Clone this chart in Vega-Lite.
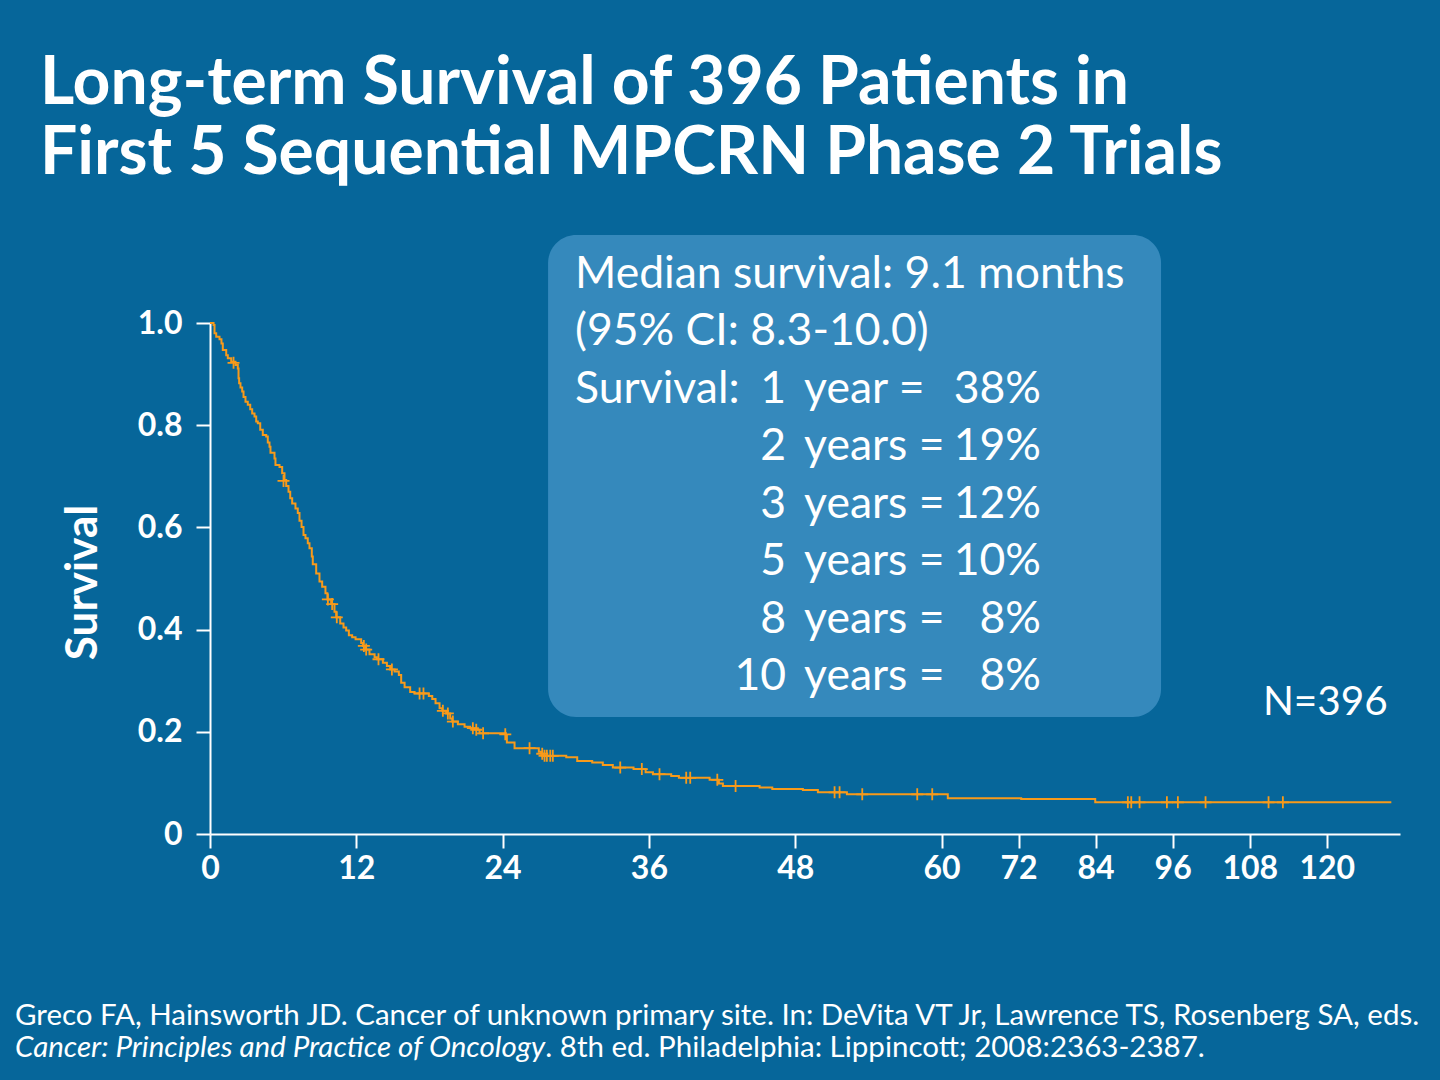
{
  "$schema": "https://vega.github.io/schema/vega-lite/v6.json",
  "width": 1190,
  "height": 511,
  "autosize": "none",
  "padding": {"left": 210, "top": 323, "right": 40, "bottom": 246},
  "background": "#06669a",
  "config": {"view": {"stroke": null}, "font": "Lato"},
  "title": {
    "text": ["Long-term Survival of 396 Patients in", "First 5 Sequential MPCRN Phase 2 Trials"],
    "anchor": "start",
    "frame": "group",
    "orient": "top",
    "font": "Lato",
    "fontSize": 66,
    "fontWeight": "bold",
    "color": "white",
    "lineHeight": 70,
    "dx": -170,
    "offset": -5,
    "baseline": "alphabetic"
  },
  "datasets": {
    "km": [
      {"month": 0, "survival": 1.0}, {"month": 0.29, "survival": 0.996}, {"month": 0.37, "survival": 0.98},
      {"month": 0.51, "survival": 0.973}, {"month": 0.78, "survival": 0.968}, {"month": 0.94, "survival": 0.96},
      {"month": 1.05, "survival": 0.947}, {"month": 1.33, "survival": 0.937}, {"month": 1.46, "survival": 0.931},
      {"month": 1.74, "survival": 0.924}, {"month": 2.09, "survival": 0.918}, {"month": 2.28, "survival": 0.911},
      {"month": 2.34, "survival": 0.892}, {"month": 2.39, "survival": 0.882}, {"month": 2.5, "survival": 0.874},
      {"month": 2.64, "survival": 0.866}, {"month": 2.75, "survival": 0.855}, {"month": 2.91, "survival": 0.846},
      {"month": 3.1, "survival": 0.84}, {"month": 3.3, "survival": 0.831}, {"month": 3.46, "survival": 0.823},
      {"month": 3.65, "survival": 0.817}, {"month": 3.79, "survival": 0.807}, {"month": 3.92, "survival": 0.804},
      {"month": 4.12, "survival": 0.791}, {"month": 4.33, "survival": 0.781}, {"month": 4.61, "survival": 0.778},
      {"month": 4.74, "survival": 0.766}, {"month": 4.88, "survival": 0.758}, {"month": 4.96, "survival": 0.746},
      {"month": 5.29, "survival": 0.735}, {"month": 5.37, "survival": 0.722}, {"month": 5.7, "survival": 0.718},
      {"month": 5.92, "survival": 0.706}, {"month": 6.11, "survival": 0.693}, {"month": 6.25, "survival": 0.681},
      {"month": 6.44, "survival": 0.67}, {"month": 6.58, "survival": 0.657}, {"month": 6.74, "survival": 0.647},
      {"month": 7.01, "survival": 0.637}, {"month": 7.2, "survival": 0.628}, {"month": 7.34, "survival": 0.613},
      {"month": 7.51, "survival": 0.601}, {"month": 7.67, "survival": 0.585}, {"month": 7.83, "survival": 0.579},
      {"month": 8.02, "survival": 0.569}, {"month": 8.16, "survival": 0.559}, {"month": 8.35, "survival": 0.543},
      {"month": 8.43, "survival": 0.528}, {"month": 8.71, "survival": 0.51}, {"month": 8.98, "survival": 0.494},
      {"month": 9.2, "survival": 0.484}, {"month": 9.47, "survival": 0.471}, {"month": 9.63, "survival": 0.459},
      {"month": 9.94, "survival": 0.45}, {"month": 10.21, "survival": 0.435}, {"month": 10.35, "survival": 0.424},
      {"month": 10.68, "survival": 0.412}, {"month": 10.95, "survival": 0.404}, {"month": 11.17, "survival": 0.398},
      {"month": 11.39, "survival": 0.389}, {"month": 11.66, "survival": 0.385}, {"month": 11.94, "survival": 0.381},
      {"month": 12.4, "survival": 0.374}, {"month": 12.54, "survival": 0.368}, {"month": 12.73, "survival": 0.361},
      {"month": 13.08, "survival": 0.352}, {"month": 13.5, "survival": 0.346}, {"month": 13.69, "survival": 0.342},
      {"month": 14.18, "survival": 0.335}, {"month": 14.51, "survival": 0.329}, {"month": 14.78, "survival": 0.322},
      {"month": 15.14, "survival": 0.318}, {"month": 15.49, "survival": 0.311}, {"month": 15.68, "survival": 0.296},
      {"month": 15.96, "survival": 0.287}, {"month": 16.42, "survival": 0.278}, {"month": 16.78, "survival": 0.275},
      {"month": 17.95, "survival": 0.27}, {"month": 18.23, "survival": 0.264}, {"month": 18.5, "survival": 0.256},
      {"month": 18.83, "survival": 0.246}, {"month": 19.05, "survival": 0.241}, {"month": 19.37, "survival": 0.236},
      {"month": 19.7, "survival": 0.226}, {"month": 19.87, "survival": 0.22}, {"month": 20.33, "survival": 0.215},
      {"month": 20.88, "survival": 0.21}, {"month": 21.34, "survival": 0.207}, {"month": 21.78, "survival": 0.204},
      {"month": 22.11, "survival": 0.197}, {"month": 24.27, "survival": 0.193}, {"month": 24.35, "survival": 0.179},
      {"month": 24.98, "survival": 0.168}, {"month": 26.97, "survival": 0.161}, {"month": 27.17, "survival": 0.157},
      {"month": 27.3, "survival": 0.153}, {"month": 29.22, "survival": 0.15}, {"month": 30.12, "survival": 0.143},
      {"month": 31.35, "survival": 0.14}, {"month": 32.22, "survival": 0.135}, {"month": 33.04, "survival": 0.13},
      {"month": 34.74, "survival": 0.127}, {"month": 35.73, "survival": 0.121}, {"month": 36.33, "survival": 0.117},
      {"month": 37.83, "survival": 0.1135}, {"month": 38.46, "survival": 0.11}, {"month": 40.98, "survival": 0.106},
      {"month": 41.74, "survival": 0.099}, {"month": 42.07, "survival": 0.094}, {"month": 45.08, "survival": 0.091},
      {"month": 46.12, "survival": 0.088}, {"month": 48.63, "survival": 0.086}, {"month": 49.86, "survival": 0.0816},
      {"month": 52.24, "survival": 0.0777}, {"month": 60.98, "survival": 0.07}, {"month": 72.41, "survival": 0.0685},
      {"month": 83.94, "survival": 0.062}, {"month": 130.05, "survival": 0.062}
    ],
    "censored": [
      {"month": 1.93, "survival": 0.922}, {"month": 6.03, "survival": 0.691}, {"month": 9.67, "survival": 0.459},
      {"month": 10.02, "survival": 0.45}, {"month": 10.4, "survival": 0.424}, {"month": 12.62, "survival": 0.368},
      {"month": 12.81, "survival": 0.361}, {"month": 13.82, "survival": 0.342}, {"month": 14.92, "survival": 0.322},
      {"month": 17.19, "survival": 0.275}, {"month": 17.51, "survival": 0.275}, {"month": 19.1, "survival": 0.241},
      {"month": 19.51, "survival": 0.236}, {"month": 19.92, "survival": 0.22}, {"month": 21.56, "survival": 0.207},
      {"month": 21.84, "survival": 0.204}, {"month": 22.4, "survival": 0.197}, {"month": 24.22, "survival": 0.195},
      {"month": 26.21, "survival": 0.168}, {"month": 27.25, "survival": 0.157}, {"month": 27.44, "survival": 0.153},
      {"month": 27.63, "survival": 0.153}, {"month": 27.91, "survival": 0.153}, {"month": 28.12, "survival": 0.153},
      {"month": 33.65, "survival": 0.13}, {"month": 35.42, "survival": 0.127}, {"month": 36.87, "survival": 0.117},
      {"month": 39.06, "survival": 0.11}, {"month": 39.39, "survival": 0.11}, {"month": 41.61, "survival": 0.106},
      {"month": 43.11, "survival": 0.094}, {"month": 51.23, "survival": 0.0816}, {"month": 51.64, "survival": 0.0816},
      {"month": 53.5, "survival": 0.0777}, {"month": 58.01, "survival": 0.0777}, {"month": 59.24, "survival": 0.0777},
      {"month": 89.02, "survival": 0.062}, {"month": 89.55, "survival": 0.062}, {"month": 90.84, "survival": 0.062},
      {"month": 95.1, "survival": 0.062}, {"month": 96.81, "survival": 0.062}, {"month": 101.12, "survival": 0.062},
      {"month": 110.93, "survival": 0.062}, {"month": 113.16, "survival": 0.062}
    ],
    "stats": [
      {"line": 1, "label": "Median survival: 9.1 months", "n": "", "unit": "", "pct": ""},
      {"line": 2, "label": "(95% CI: 8.3-10.0)", "n": "", "unit": "", "pct": ""},
      {"line": 3, "label": "Survival:", "n": "1", "unit": "year =", "pct": "38%"},
      {"line": 4, "label": "", "n": "2", "unit": "years =", "pct": "19%"},
      {"line": 5, "label": "", "n": "3", "unit": "years =", "pct": "12%"},
      {"line": 6, "label": "", "n": "5", "unit": "years =", "pct": "10%"},
      {"line": 7, "label": "", "n": "8", "unit": "years =", "pct": "8%"},
      {"line": 8, "label": "", "n": "10", "unit": "years =", "pct": "8%"}
    ],
    "footer": [
      {"line": 1, "part": "plain", "text": "Greco FA, Hainsworth JD. Cancer of unknown primary site. In: DeVita VT Jr, Lawrence TS, Rosenberg SA, eds."},
      {"line": 2, "part": "italic", "text": "Cancer: Principles and Practice of Oncology"},
      {"line": 2, "part": "rest", "text": ". 8th ed. Philadelphia: Lippincott; 2008:2363-2387."}
    ],
    "note": [{"text": "N=396"}]
  },
  "resolve": {"scale": {"y": "independent"}},
  "layer": [
    {
      "data": {"values": [{"box": "summary"}]},
      "mark": {"type": "rect", "fill": "#3589bc", "cornerRadius": 28, "clip": false},
      "encoding": {
        "x": {"datum": 27.73, "type": "quantitative"},
        "x2": {"datum": 94.19},
        "y": {"datum": 1.172, "type": "quantitative", "scale": {"domain": [0, 1]}, "axis": null},
        "y2": {"datum": 0.229}
      }
    },
    {
      "data": {"name": "km"},
      "mark": {"type": "line", "interpolate": "step-after", "color": "#f89a1a", "strokeWidth": 2},
      "encoding": {
        "x": {
          "field": "month", "type": "quantitative",
          "scale": {"domain": [0, 60, 131.4], "range": [0, 731.5, 1190], "nice": false, "zero": false},
          "axis": {
            "values": [0, 12, 24, 36, 48, 60, 72, 84, 96, 108, 120],
            "format": "d", "title": null, "grid": false,
            "domainColor": "white", "domainWidth": 2,
            "tickColor": "white", "tickWidth": 2, "tickSize": 14,
            "labelColor": "white", "labelFont": "Lato", "labelFontWeight": "bold", "labelFontSize": 32,
            "labelPadding": 5, "labelFlush": false, "labelOverlap": false, "labelBound": false
          }
        },
        "y": {
          "field": "survival", "type": "quantitative",
          "scale": {"domain": [0, 1], "nice": false},
          "axis": {
            "values": [0, 0.2, 0.4, 0.6, 0.8, 1],
            "labelExpr": "datum.value == 0 ? '0' : format(datum.value, '.1f')",
            "grid": false,
            "domainColor": "white", "domainWidth": 2,
            "tickColor": "white", "tickWidth": 2, "tickSize": 14,
            "labelColor": "white", "labelFont": "Lato", "labelFontWeight": "bold", "labelFontSize": 32,
            "labelPadding": 14, "labelFlush": false, "labelOverlap": false, "labelBound": false,
            "title": "Survival", "titleColor": "white", "titleFont": "Lato", "titleFontWeight": "bold",
            "titleFontSize": 44, "titleX": -127, "titleY": 259, "titleAngle": -90,
            "titleAlign": "center", "titleBaseline": "middle"
          }
        }
      }
    },
    {
      "data": {"name": "censored"},
      "mark": {"type": "point", "shape": "M-1,0L1,0M0,-1L0,1", "filled": false, "stroke": "#f89a1a", "strokeWidth": 1.8, "size": 144, "opacity": 1},
      "encoding": {
        "x": {"field": "month", "type": "quantitative"},
        "y": {"field": "survival", "type": "quantitative", "scale": {"domain": [0, 1], "nice": false}, "axis": null}
      }
    },
    {
      "data": {"name": "stats"},
      "encoding": {
        "y": {"field": "line", "type": "ordinal", "scale": {"type": "point", "domain": [1, 2, 3, 4, 5, 6, 7, 8], "range": [-35, 367], "padding": 0}, "axis": null}
      },
      "layer": [
        {
          "mark": {"type": "text", "align": "left", "baseline": "alphabetic", "fontSize": 44.5, "color": "white", "clip": false},
          "encoding": {"x": {"datum": 29.94, "type": "quantitative"}, "text": {"field": "label"}}
        },
        {
          "mark": {"type": "text", "align": "right", "baseline": "alphabetic", "fontSize": 44.5, "color": "white", "clip": false},
          "encoding": {"x": {"datum": 47.25, "type": "quantitative"}, "text": {"field": "n"}}
        },
        {
          "mark": {"type": "text", "align": "left", "baseline": "alphabetic", "fontSize": 44.5, "color": "white", "clip": false},
          "encoding": {"x": {"datum": 48.73, "type": "quantitative"}, "text": {"field": "unit"}}
        },
        {
          "mark": {"type": "text", "align": "right", "baseline": "alphabetic", "fontSize": 44.5, "color": "white", "clip": false},
          "encoding": {"x": {"datum": 75.5, "type": "quantitative"}, "text": {"field": "pct"}}
        }
      ]
    },
    {
      "data": {"name": "note"},
      "mark": {"type": "text", "align": "right", "baseline": "alphabetic", "fontSize": 40.5, "color": "white", "clip": false},
      "encoding": {
        "x": {"datum": 129.5, "type": "quantitative"},
        "y": {"datum": 0.233, "type": "quantitative", "scale": {"domain": [0, 1]}, "axis": null},
        "text": {"field": "text"}
      }
    },
    {
      "data": {"name": "footer"},
      "encoding": {
        "y": {"field": "line", "type": "ordinal", "scale": {"type": "point", "domain": [1, 2], "range": [702, 734], "padding": 0}, "axis": null}
      },
      "layer": [
        {
          "transform": [{"filter": "datum.part == 'plain'"}],
          "mark": {"type": "text", "align": "left", "baseline": "alphabetic", "fontSize": 29.5, "color": "white", "clip": false},
          "encoding": {"x": {"datum": -16.0, "type": "quantitative"}, "text": {"field": "text"}}
        },
        {
          "transform": [{"filter": "datum.part == 'italic'"}],
          "mark": {"type": "text", "align": "left", "baseline": "alphabetic", "fontSize": 29.5, "fontStyle": "italic", "color": "white", "clip": false},
          "encoding": {"x": {"datum": -16.0, "type": "quantitative"}, "text": {"field": "text"}}
        },
        {
          "transform": [{"filter": "datum.part == 'rest'"}],
          "mark": {"type": "text", "align": "left", "baseline": "alphabetic", "fontSize": 29.5, "color": "white", "clip": false},
          "encoding": {"x": {"datum": 27.5, "type": "quantitative"}, "text": {"field": "text"}}
        }
      ]
    }
  ]
}
